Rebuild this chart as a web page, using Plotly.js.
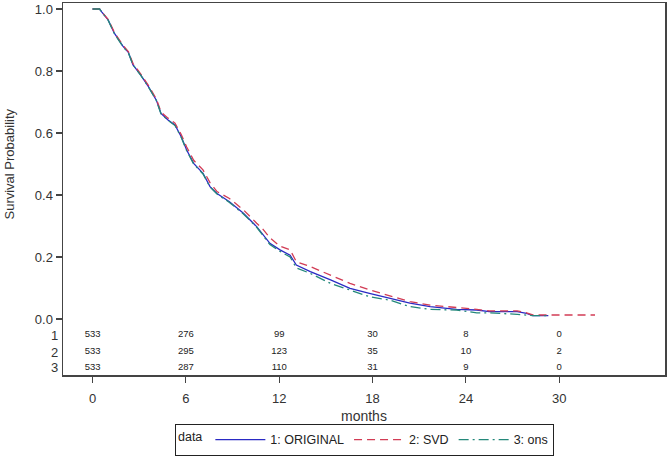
<!DOCTYPE html>
<html>
<head>
<meta charset="utf-8">
<script src="https://cdn.plot.ly/plotly-3.0.1.min.js"></script>
<style>
  html, body { margin: 0; padding: 0; background: #fff; }
  #chart { width: 672px; height: 457px; }
</style>
</head>
<body>
<div id="chart"></div>
<script>
// survival curves (months, probability)
const origMonths = [0, 0.45, 0.6, 1.0, 1.4, 1.95, 2.3, 2.6, 3.1, 3.6, 4.1, 4.4, 4.85, 5.3, 5.7, 6.05, 6.5, 7.1, 7.55, 8.0, 8.8, 9.7, 10.55, 10.9, 11.4, 12.05, 12.7, 13.1, 14.0, 15.3, 16.55, 17.8, 19.1, 20.4, 21.7, 23.4, 24.7, 25.5, 27.3, 27.9, 28.3, 29.3];
const origSurv = [1, 1, 0.99, 0.965, 0.922, 0.88, 0.86, 0.82, 0.787, 0.749, 0.706, 0.663, 0.642, 0.626, 0.588, 0.545, 0.502, 0.47, 0.427, 0.405, 0.378, 0.341, 0.298, 0.276, 0.244, 0.223, 0.206, 0.174, 0.153, 0.126, 0.099, 0.083, 0.067, 0.051, 0.040, 0.031, 0.029, 0.024, 0.024, 0.018, 0.011, 0.011];

const svdMonths = [0, 0.45, 0.6, 1.0, 1.4, 1.95, 2.3, 2.6, 3.1, 3.6, 4.1, 4.4, 4.85, 5.3, 5.7, 6.05, 6.5, 7.1, 7.55, 8.0, 8.8, 9.7, 10.55, 10.9, 11.4, 12.05, 12.7, 13.1, 14.0, 15.3, 16.55, 17.8, 19.1, 20.4, 21.7, 23.4, 24.7, 25.5, 27.3, 27.9, 28.3, 32.3];
const svdSurv = [1, 1, 0.99, 0.967, 0.925, 0.883, 0.863, 0.824, 0.79, 0.753, 0.71, 0.668, 0.648, 0.632, 0.595, 0.555, 0.512, 0.481, 0.44, 0.411, 0.389, 0.352, 0.309, 0.293, 0.262, 0.235, 0.223, 0.185, 0.169, 0.142, 0.115, 0.094, 0.076, 0.056, 0.045, 0.038, 0.031, 0.026, 0.026, 0.02, 0.013, 0.013];

const onsMonths = [0, 0.45, 0.6, 1.0, 1.4, 1.95, 2.3, 2.6, 3.1, 3.6, 4.1, 4.4, 4.85, 5.3, 5.7, 6.05, 6.5, 7.1, 7.55, 8.0, 8.8, 9.7, 10.55, 10.9, 11.4, 12.05, 12.7, 13.1, 14.0, 15.3, 16.55, 17.8, 19.1, 20.4, 21.7, 23.4, 24.7, 25.5, 27.3, 28.3, 29.2];
const onsSurv = [1, 1, 0.99, 0.964, 0.921, 0.879, 0.859, 0.82, 0.786, 0.748, 0.705, 0.662, 0.641, 0.624, 0.586, 0.543, 0.5, 0.468, 0.426, 0.403, 0.376, 0.339, 0.296, 0.272, 0.24, 0.218, 0.2, 0.165, 0.147, 0.115, 0.094, 0.072, 0.061, 0.040, 0.031, 0.029, 0.020, 0.020, 0.015, 0.011, 0.011];

// number at risk table
const riskMonths = [0, 6, 12, 18, 24, 30];
const risk1 = [533, 276, 99, 30, 8, 0];
const risk2 = [533, 295, 123, 35, 10, 2];
const risk3 = [533, 287, 110, 31, 9, 0];
const riskRows = ["1", "2", "3"];

const xTicks = [0, 6, 12, 18, 24, 30];
const yTicks = [0, 0.2, 0.4, 0.6, 0.8, 1.0];

const rowY = [-0.0516, -0.1065, -0.158]; // positions of the risk rows below 0
const font = "Liberation Sans, Arial, sans-serif";

const curve = (name, x, y, color, dash) => ({
    type: "scatter", mode: "lines", name, x, y,
    line: { color, width: 1.3, dash, shape: "linear" }, hoverinfo: "skip"
});

const riskTrace = {
    type: "scatter", mode: "text", showlegend: false, hoverinfo: "skip",
    x: [...riskMonths, ...riskMonths, ...riskMonths],
    y: [...riskMonths.map(() => rowY[0]), ...riskMonths.map(() => rowY[1]), ...riskMonths.map(() => rowY[2])],
    text: [...risk1, ...risk2, ...risk3].map(String),
    textposition: "middle center",
    textfont: { family: font, size: 9.5, color: "#222" }
};

const traces = [
    curve("1: ORIGINAL", origMonths, origSurv, "#2a2ac4", "solid"),
    curve("2: SVD", svdMonths, svdSurv, "#d23c55", "8px,5px"),
    curve("3: ons", onsMonths, onsSurv, "#24887a", "10px,4px,2px,4px"),
    riskTrace
];

const annotations = riskRows.map((r, i) => ({
    xref: "paper", yref: "y", x: 0, y: rowY[i], xanchor: "right", yanchor: "middle",
    xshift: -3, text: r, showarrow: false, font: { family: font, size: 13, color: "#333" }
}));
annotations.push({
    xref: "paper", yref: "y", x: 0, y: 0.5, xanchor: "right", yanchor: "middle", xshift: -44,
    text: "Survival Probability", textangle: -90, showarrow: false,
    font: { family: font, size: 13, color: "#333" }
});
annotations.push({
    xref: "paper", yref: "paper", x: 0.5, y: -0.111, xanchor: "center", yanchor: "middle",
    text: "months", showarrow: false, font: { family: font, size: 14, color: "#333" }
});

const layout = {
    width: 672, height: 457,
    paper_bgcolor: "#fff", plot_bgcolor: "#fff",
    margin: { l: 63, r: 7, t: 3, b: 82, autoexpand: false },
    font: { family: font, color: "#333" },
    xaxis: {
        range: [-1.9, 36.8], tickvals: xTicks, ticks: "outside", ticklen: 6, tickwidth: 1.2, tickcolor: "#444",
        ticklabelstandoff: 5,
        showline: true, mirror: true, linecolor: "#444", linewidth: 1.5, showgrid: false, zeroline: false,
        tickfont: { family: font, size: 13, color: "#333" }
    },
    yaxis: {
        range: [-0.1806, 1.0194], tickvals: yTicks, tickformat: ".1f", ticks: "outside", ticklen: 6, tickwidth: 1.2, tickcolor: "#444",
        showline: true, mirror: true, linecolor: "#444", linewidth: 1.5, showgrid: false, zeroline: false,
        tickfont: { family: font, size: 13, color: "#333" }
    },
    showlegend: true,
    legend: {
        orientation: "h", x: 0.5008, xanchor: "center", y: -0.2177, yanchor: "bottom",
        bordercolor: "#222", borderwidth: 1, itemwidth: 50,
        title: { text: "data", side: "left", font: { family: font, size: 12.5, color: "#222" } },
        font: { family: font, size: 12.5, color: "#222" }
    },
    annotations
};

Plotly.newPlot("chart", traces, layout, { displayModeBar: false, staticPlot: true });
</script>
</body>
</html>
